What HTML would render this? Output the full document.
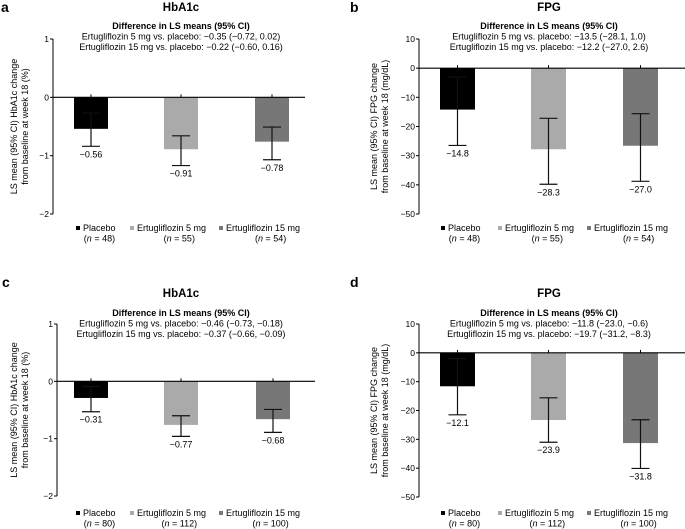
<!DOCTYPE html>
<html><head><meta charset="utf-8">
<style>
html,body{margin:0;padding:0;background:#fff;}
svg{display:block;font-family:"Liberation Sans",Arial,sans-serif;}
</style></head>
<body>
<svg id="fig" width="685" height="529" viewBox="0 0 685 529" xmlns="http://www.w3.org/2000/svg"></svg>
<script>
// ---- Data ----
const groups = ["Placebo", "Ertugliflozin 5 mg", "Ertugliflozin 15 mg"];
const nTop = [48, 55, 54];
const nBottom = [80, 112, 100];
const hba1cTicks = [1, 0, -1, -2];
const fpgTicks = [10, 0, -10, -20, -30, -40, -50];
// Panel a (HbA1c)
const meansA = [-0.54, -0.89, -0.76];
const ciLowA = [-0.84, -1.17, -1.07];
const ciHighA = [-0.27, -0.66, -0.51];
const labelsA = ["\u22120.56", "\u22120.91", "\u22120.78"];
// Panel b (FPG)
const meansB = [-14.2, -27.8, -26.6];
const ciLowB = [-26.5, -39.8, -38.8];
const ciHighB = [-3.0, -17.2, -15.6];
const labelsB = ["\u221214.8", "\u221228.3", "\u221227.0"];
// Panel c (HbA1c)
const meansC = [-0.29, -0.76, -0.66];
const ciLowC = [-0.53, -0.96, -0.89];
const ciHighC = [-0.09, -0.60, -0.49];
const labelsC = ["\u22120.31", "\u22120.77", "\u22120.68"];
// Panel d (FPG)
const meansD = [-11.6, -23.3, -31.3];
const ciLowD = [-21.5, -31.0, -40.1];
const ciHighD = [-2.0, -15.6, -23.2];
const labelsD = ["\u221212.1", "\u221223.9", "\u221231.8"];
// Difference text
const diffA = ["Ertugliflozin 5 mg vs. placebo: \u22120.35 (\u22120.72, 0.02)", "Ertugliflozin 15 mg vs. placebo:  \u22120.22 (\u22120.60, 0.16)"];
const diffB = ["Ertugliflozin 5 mg vs. placebo: \u221213.5 (\u221228.1, 1.0)", "Ertugliflozin 15 mg vs. placebo: \u221212.2 (\u221227.0, 2.6)"];
const diffC = ["Ertugliflozin 5 mg vs. placebo: \u22120.46 (\u22120.73, \u22120.18)", "Ertugliflozin 15 mg vs. placebo: \u22120.37 (\u22120.66, \u22120.09)"];
const diffD = ["Ertugliflozin 5 mg vs. placebo: \u221211.8 (\u221223.0, \u22120.6)", "Ertugliflozin 15 mg vs. placebo: \u221219.7 (\u221231.2, \u22128.3)"];

const colors = ["#000000", "#aaaaaa", "#777777"];
const NS = "http://www.w3.org/2000/svg";
const svg = document.getElementById("fig");

function el(tag, attrs, parent, text) {
  const e = document.createElementNS(NS, tag);
  for (const k in attrs) e.setAttribute(k, attrs[k]);
  if (text !== undefined) e.textContent = text;
  (parent || svg).appendChild(e);
  return e;
}

function panel(cfg) {
  const g = el("g", {});
  
  
  const vmax = cfg.ticks[0], vmin = cfg.ticks[cfg.ticks.length - 1];
  const y = v => cfg.top + (vmax - v) / (vmax - vmin) * (cfg.bottom - cfg.top);
  const t1 = el("text", {x: cfg.letterX, y: cfg.letterY, "font-size": 14, "font-weight": "bold"}, g, cfg.id);
  
  
  const t2 = el("text", {x: cfg.titleX, y: cfg.titleY, "font-size": 11.5, "font-weight": "bold", "text-anchor": "middle"}, g, cfg.title);
  
  
  const t3 = el("text", {x: cfg.diffX, y: cfg.diffY, "font-size": 9, "font-weight": "bold", "text-anchor": "middle"}, g, "Difference in LS means (95% CI)");
  
  
  cfg.diff.forEach((s, i) => {
    const t = el("text", {x: cfg.diffX, y: cfg.diffY + 10.5 * (i + 1), "font-size": 9, "text-anchor": "middle", "xml:space": "preserve"}, g, s);
    
    
  });
  const ax = el("line", {x1: cfg.axisX, x2: cfg.axisX, y1: y(vmax), y2: y(vmin), stroke: "#000", "stroke-width": 1}, g);
  
  
  cfg.ticks.forEach(v => {
    const tk = el("line", {x1: cfg.axisX - 3, x2: cfg.axisX, y1: y(v), y2: y(v), stroke: "#000"}, g);
    
    
    const tl = el("text", {x: cfg.axisX - 4, y: y(v) + 3, "font-size": 8.5, "text-anchor": "end"}, g, v < 0 ? "\u2212" + (-v) : String(v));
    
    
  });
  const yt = el("text", {transform: `translate(${cfg.ytX},${(y(vmax) + y(vmin)) / 2}) rotate(-90)`, "font-size": 9, "text-anchor": "middle"}, g);
  
  
  el("tspan", {x: 0, dy: 0}, yt, cfg.yTitle[0]);
  el("tspan", {x: 0, dy: 11}, yt, cfg.yTitle[1]);
  cfg.means.forEach((m, i) => {
    const x0 = cfg.bars[i], w = cfg.barW, cx = x0 + w / 2;
    const r = el("rect", {x: x0, y: y(0), width: w, height: y(m) - y(0), fill: colors[i]}, g);
    
    
    const ec = "#111";
    const e1 = el("line", {x1: cx, x2: cx, y1: y(cfg.hi[i]), y2: y(cfg.lo[i]), stroke: ec, "stroke-width": 1.2}, g);
    
    
    [cfg.hi[i], cfg.lo[i]].forEach(v => {
      const c = el("line", {x1: cx - 9, x2: cx + 9, y1: y(v), y2: y(v), stroke: ec, "stroke-width": 1.2}, g);
      
      
    });
    const ct = el("line", {x1: cx, x2: cx, y1: y(0) - 3, y2: y(0), stroke: "#000"}, g);
    
    
    const vl = el("text", {x: cx, y: y(cfg.lo[i]) + 11, "font-size": 9, "text-anchor": "middle"}, g, cfg.labels[i]);
    
    
  });
  const zl = el("line", {x1: cfg.axisX, x2: cfg.axisEnd, y1: y(0), y2: y(0), stroke: "#000", "stroke-width": 1.2}, g);
  
  
  groups.forEach((name, i) => {
    const lx = cfg.legX[i];
    const m = el("rect", {x: lx, y: cfg.legY - 5, width: 4, height: 4, fill: colors[i]}, g);
    
    
    const t = el("text", {x: lx + 7, y: cfg.legY, "font-size": 9}, g, name);
    
    
    const nw = name.length * 4.7;
    const nt = el("text", {x: lx + 7 + nw / 2, y: cfg.legY + 10.5, "font-size": 9, "text-anchor": "middle"}, g);
    
    
    el("tspan", {}, nt, "(");
    el("tspan", {"font-style": "italic"}, nt, "n");
    el("tspan", {}, nt, " = " + cfg.n[i] + ")");
  });
}

const hTitle = ["LS mean (95% CI) HbA1c change", "from baseline at  week 18 (%)"];
const fTitle = ["LS mean (95% CI) FPG change", "from baseline at  week 18 (mg/dL)"];

panel({id: "a", title: "HbA1c", letterX: 1, letterY: 12, titleX: 181, titleY: 11, diffX: 181, diffY: 29,
  diff: diffA, ticks: hba1cTicks, top: 39, bottom: 214, axisX: 53, axisEnd: 305, ytX: 17, yTitle: hTitle,
  bars: [74, 164, 255], barW: 34, means: meansA, lo: ciLowA, hi: ciHighA, labels: labelsA,
  legX: [76, 130, 219], legY: 231, n: nTop});
panel({id: "b", title: "FPG", letterX: 350, letterY: 12, titleX: 549, titleY: 11, diffX: 549, diffY: 29,
  diff: diffB, ticks: fpgTicks, top: 39, bottom: 214, axisX: 419, axisEnd: 685, ytX: 377, yTitle: fTitle,
  bars: [440, 531, 623], barW: 35, means: meansB, lo: ciLowB, hi: ciHighB, labels: labelsB,
  legX: [441, 498, 587], legY: 231, n: nTop});
panel({id: "c", title: "HbA1c", letterX: 2, letterY: 287, titleX: 181, titleY: 297, diffX: 181, diffY: 316,
  diff: diffC, ticks: hba1cTicks, top: 324, bottom: 496, axisX: 57, axisEnd: 315, ytX: 17, yTitle: hTitle,
  bars: [74, 164, 256], barW: 34, means: meansC, lo: ciLowC, hi: ciHighC, labels: labelsC,
  legX: [76, 130, 219], legY: 516, n: nBottom});
panel({id: "d", title: "FPG", letterX: 350, letterY: 287, titleX: 549, titleY: 297, diffX: 549, diffY: 316,
  diff: diffD, ticks: fpgTicks, top: 324, bottom: 497, axisX: 419, axisEnd: 685, ytX: 377, yTitle: fTitle,
  bars: [440, 531, 623], barW: 35, means: meansD, lo: ciLowD, hi: ciHighD, labels: labelsD,
  legX: [441, 498, 587], legY: 516, n: nBottom});
</script>
</body></html>
